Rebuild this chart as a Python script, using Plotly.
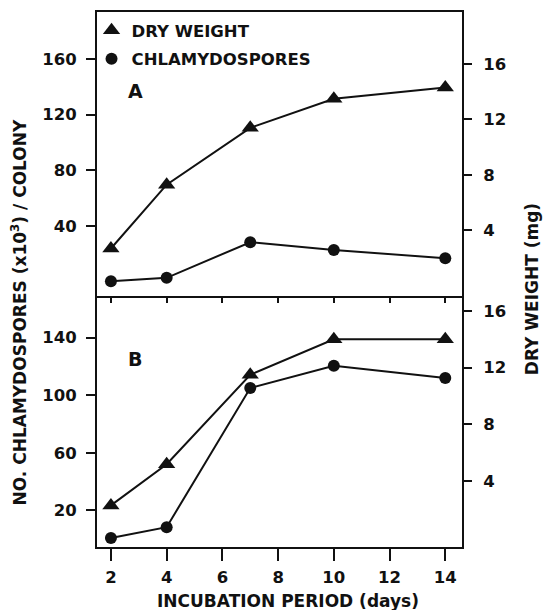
import plotly.graph_objects as go

days = [2, 4, 7, 10, 14]
x_ticks = [2, 4, 6, 8, 10, 12, 14]

# Panel A
chlamy_A = [0.5, 3, 28.5, 23, 17]        # x10^3 per colony
dry_A = [2.7, 7.3, 11.4, 13.5, 14.3]     # mg

# Panel B
chlamy_B = [0.7, 8.3, 105, 120.5, 112]
dry_B = [2.3, 5.2, 11.5, 14.0, 14.0]

left_ticks_A = [40, 80, 120, 160]
right_ticks_A = [4, 8, 12, 16]
left_ticks_B = [20, 60, 100, 140]
right_ticks_B = [4, 8, 12, 16]

FONT = "DejaVu Sans"
BLACK = "#111111"
FS = 16.5

fig = go.Figure()

tri = dict(symbol="triangle-up", size=15, color=BLACK)
cir = dict(symbol="circle", size=12, color=BLACK)
ln = dict(color=BLACK, width=2)

# legend-only entries (marker only, as in the original key)
fig.add_trace(go.Scatter(x=[None], y=[None], mode="markers", name="DRY WEIGHT",
                         marker=tri, xaxis="x", yaxis="y2", legendrank=1,
                         legendgroup="a"))
fig.add_trace(go.Scatter(x=[None], y=[None], mode="markers", name="CHLAMYDOSPORES",
                         marker=cir, xaxis="x", yaxis="y", legendrank=2,
                         legendgroup="b"))

fig.add_trace(go.Scatter(x=days, y=dry_A, mode="lines+markers", name="DRY WEIGHT",
                         marker=tri, line=ln, xaxis="x", yaxis="y2", showlegend=False))
fig.add_trace(go.Scatter(x=days, y=chlamy_A, mode="lines+markers", name="CHLAMYDOSPORES",
                         marker=cir, line=ln, xaxis="x", yaxis="y", showlegend=False))
fig.add_trace(go.Scatter(x=days, y=dry_B, mode="lines+markers", name="DRY WEIGHT",
                         marker=tri, line=ln, xaxis="x2", yaxis="y4", showlegend=False))
fig.add_trace(go.Scatter(x=days, y=chlamy_B, mode="lines+markers", name="CHLAMYDOSPORES",
                         marker=cir, line=ln, xaxis="x2", yaxis="y3", showlegend=False))

tickfont = dict(family=FONT, size=FS, color=BLACK, weight="bold")
titlefont = dict(family=FONT, size=17, color=BLACK, weight="bold")
xr = [1.5, 14.6]
splitA = 0.4693

common_axis = dict(showgrid=False, zeroline=False, showline=True, linecolor=BLACK,
                   linewidth=2, tickcolor=BLACK, tickwidth=2, tickfont=tickfont)

fig.update_layout(
    width=547, height=610,
    margin=dict(l=97, r=85, t=10, b=63),
    paper_bgcolor="white", plot_bgcolor="white",
    showlegend=True,
    legend=dict(x=-0.015, y=0.998, xanchor="left", yanchor="top",
                bgcolor="rgba(0,0,0,0)", tracegroupgap=4,
                font=dict(family=FONT, size=FS, color=BLACK, weight="bold"),
                itemwidth=30),
    xaxis=dict(domain=[0, 1], anchor="y", range=xr, tickvals=x_ticks,
               showticklabels=False, ticks="outside", ticklen=5, mirror=True,
               **common_axis),
    xaxis3=dict(overlaying="x", anchor="y", range=xr, tickvals=x_ticks,
                showticklabels=False, ticks="inside", ticklen=5, showline=False,
                showgrid=False, zeroline=False, tickcolor=BLACK, tickwidth=2),
    xaxis2=dict(domain=[0, 1], anchor="y3", range=xr, tickvals=x_ticks,
                ticks="outside", ticklen=12, ticklabelstandoff=2,
                **common_axis),
    yaxis=dict(domain=[splitA, 1], anchor="x", range=[-10, 193.6], tickvals=left_ticks_A,
               ticks="outside", ticklen=9, ticklabelstandoff=6, **common_axis),
    yaxis2=dict(overlaying="y", side="right", anchor="x", range=[-0.72, 19.75],
                tickvals=right_ticks_A, ticks="outside", ticklen=8,
                ticklabelstandoff=8, **common_axis),
    yaxis3=dict(domain=[0, splitA], anchor="x2", range=[-5.5, 169], tickvals=left_ticks_B,
                ticks="outside", ticklen=9, ticklabelstandoff=6, **common_axis),
    yaxis4=dict(overlaying="y3", side="right", anchor="x2", range=[-0.63, 17.05],
                tickvals=right_ticks_B, ticks="outside", ticklen=8,
                ticklabelstandoff=8, **common_axis),
    annotations=[
        dict(text="A", x=0.105, y=0.853, xref="paper", yref="paper", showarrow=False,
             xanchor="center", yanchor="middle",
             font=dict(family=FONT, size=19, color=BLACK, weight="bold")),
        dict(text="B", x=0.104, y=0.352, xref="paper", yref="paper", showarrow=False,
             xanchor="center", yanchor="middle",
             font=dict(family=FONT, size=19, color=BLACK, weight="bold")),
        dict(text="NO. CHLAMYDOSPORES (x10<sup>3</sup>) / COLONY", textangle=-90,
             x=-0.214, y=0.44, xref="paper", yref="paper", showarrow=False,
             xanchor="center", yanchor="middle", font=titlefont),
        dict(text="DRY WEIGHT (mg)", textangle=-90,
             x=1.192, y=0.482, xref="paper", yref="paper", showarrow=False,
             xanchor="center", yanchor="middle", font=titlefont),
        dict(text="INCUBATION PERIOD (days)",
             x=0.522, y=-0.1006, xref="paper", yref="paper", showarrow=False,
             xanchor="center", yanchor="middle", font=titlefont),
    ],
)

fig.write_html("out.html")
